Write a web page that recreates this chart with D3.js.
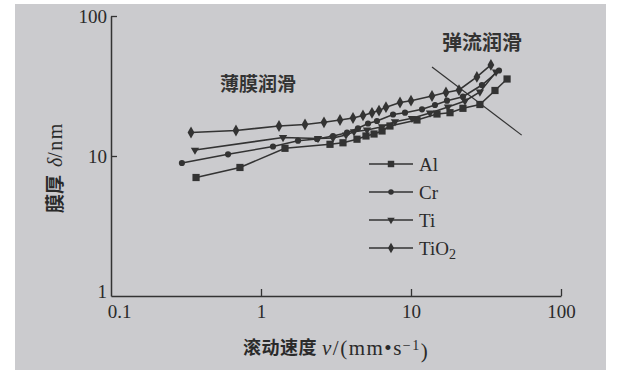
<!DOCTYPE html>
<html><head><meta charset="utf-8">
<script src="https://cdn.jsdelivr.net/npm/d3@7"></script>
<style>
html,body{margin:0;padding:0;background:#ffffff;}
svg{display:block;}
</style></head>
<body>
<svg id="chart" width="622" height="373"></svg>
<script>
// ---- data ----
const seriesNames = ["Al", "Cr", "Ti", "TiO2"];
const alX  = [0.369,0.724,1.445,2.884,3.52,4.365,5.01,5.67,6.41,7.24,10.96,14.9,18.2,22.2,28.8,36.3,43.7];
const alY  = [7.02,8.28,11.35,12.12,12.43,13.18,13.9,14.36,15.09,16.38,18.08,19.95,20.39,21.91,23.33,29.37,35.48];
const crX  = [0.297,0.603,1.202,1.765,2.362,3.02,3.745,4.43,5.17,5.93,7.59,9.12,11.84,14.45,17.38,22.2,29.7,38.6];
const crY  = [8.91,10.28,11.69,12.86,13.22,13.9,14.67,15.77,17.07,17.78,19.79,20.39,21.56,23.14,24.83,26.52,32.15,40.8];
const tiX  = [0.363,1.402,2.399,3.02,3.687,4.17,5.09,6.41,7.82,10.15,13.39,17.65,22.9,28.8,36.9];
const tiY  = [11.03,13.56,13.34,13.45,14.13,14.92,15.34,16.19,17.58,18.59,20.29,22.39,24.7,28.65,39.8];
const tio2X = [0.3415,0.681,1.318,1.965,2.63,3.363,4.105,4.786,5.495,6.12,6.81,8.45,10,13.8,17.11,20.9,27.5,34.1];
const tio2Y = [14.72,15.21,16.38,16.79,17.41,18.08,18.68,19.47,20.35,21.13,22.32,24.11,24.83,26.83,28.42,29.6,36.7,44.7];
const dividerX = [13.8, 54.7];
const dividerY = [43.2, 14.1];
const xTicks = [0.1, 1, 10, 100];
const yTicks = [1, 10, 100];
const regionLabels = ["薄膜润滑", "弹流润滑"];

// ---- drawing ----
const svg = d3.select("#chart");
const ink = "#333";
svg.append("rect").attr("width",622).attr("height",373).attr("fill","#ffffff");
svg.append("rect").attr("x",15).attr("y",4).attr("width",591).attr("height",366).attr("fill","#cbcbce");

const x = d3.scaleLog().domain([0.1,100]).range([111,561]);
const y = d3.scaleLog().domain([1,100]).range([296,16]);

const serif = "'Liberation Serif','Times New Roman',serif";
const cjk = "'Noto Sans CJK SC','Noto Sans CJK JP',sans-serif";

// axes
const gx = svg.append("g").attr("transform","translate(0,296)")
  .call(d3.axisBottom(x).tickValues(xTicks).tickSize(-7).tickSizeOuter(0).tickPadding(9).tickFormat(d=>String(d)));
const gy = svg.append("g").attr("transform","translate(111,0)")
  .call(d3.axisLeft(y).tickValues(yTicks).tickSize(-6).tickSizeOuter(0).tickPadding(4).tickFormat(d=>String(d)));
[gx,gy].forEach(g=>{
  g.select(".domain").attr("stroke",ink).attr("stroke-width",1.5);
  g.selectAll(".tick line").attr("stroke",ink).attr("stroke-width",1.3);
  g.selectAll(".tick text").attr("fill","#2a2a2a").style("font-family",serif).style("font-size","19px");
});
gx.selectAll(".tick").filter(d=>d===0.1).select("line").remove();
gx.selectAll(".tick").filter(d=>d===0.1).select("text").attr("dx",8);
gy.selectAll(".tick").filter(d=>d===1).select("line").remove();
gy.selectAll(".tick").filter(d=>d===1).select("text").attr("dy","0.1em");

// divider
svg.append("line")
  .attr("x1",x(dividerX[0])).attr("y1",y(dividerY[0]))
  .attr("x2",x(dividerX[1])).attr("y2",y(dividerY[1]))
  .attr("stroke",ink).attr("stroke-width",1.2);

const symbols = {
  "Al": {type:d3.symbolSquare, size:52, rot:0},
  "Cr": {type:d3.symbolCircle, size:30, rot:0},
  "Ti": {type:d3.symbolTriangle, size:30, rot:180},
  "TiO2": {type:d3.symbolDiamond, size:40, rot:0}
};
const data = {
  "Al": alX.map((v,i)=>[v,alY[i]]),
  "Cr": crX.map((v,i)=>[v,crY[i]]),
  "Ti": tiX.map((v,i)=>[v,tiY[i]]),
  "TiO2": tio2X.map((v,i)=>[v,tio2Y[i]])
};
const line = d3.line().x(d=>x(d[0])).y(d=>y(d[1]));

seriesNames.forEach(name=>{
  const pts = data[name];
  svg.append("path").attr("d",line(pts)).attr("fill","none").attr("stroke",ink).attr("stroke-width",1.6);
  const s = symbols[name];
  svg.append("g").selectAll("path").data(pts).join("path")
    .attr("d",d3.symbol().type(s.type).size(s.size))
    .attr("transform",d=>`translate(${x(d[0])},${y(d[1])}) rotate(${s.rot})`)
    .attr("fill",ink);
});

// legend
const legY = [164,192,220,248];
seriesNames.forEach((name,i)=>{
  const g = svg.append("g").attr("transform",`translate(0,${legY[i]})`);
  g.append("line").attr("x1",369).attr("x2",413).attr("y1",0).attr("y2",0).attr("stroke",ink).attr("stroke-width",1.6);
  const s = symbols[name];
  g.append("path").attr("d",d3.symbol().type(s.type).size(s.size*0.8))
    .attr("transform",`translate(391,0) rotate(${s.rot})`).attr("fill",ink);
  const t = g.append("text").attr("x",419).attr("y",0).attr("dy","0.35em")
    .attr("fill","#2a2a2a").style("font-family",serif).style("font-size","19px");
  if(name==="TiO2"){
    t.append("tspan").text("TiO");
    t.append("tspan").attr("dy","0.3em").style("font-size","14px").text("2");
  } else t.text(name);
});

// region labels
svg.append("text").attr("x",258).attr("y",84).attr("dy","0.35em").attr("text-anchor","middle")
  .style("font-family",cjk).style("font-weight","700").style("font-size","19px").attr("fill","#333").text(regionLabels[0]);
svg.append("text").attr("x",482).attr("y",43).attr("dy","0.35em").attr("text-anchor","middle")
  .style("font-family",cjk).style("font-weight","700").style("font-size","20px").attr("fill","#333").text(regionLabels[1]);

// axis titles
const xt = svg.append("text").attr("x",243).attr("y",348).attr("dy","0.35em")
  .attr("fill","#2a2a2a");
xt.append("tspan").style("font-family",cjk).style("font-weight","700").style("font-size","18px")
  .style("letter-spacing","0.5px").text("滚动速度");
const xl = svg.append("text").attr("x",322).attr("y",348).attr("dy","0.35em")
  .attr("fill","#2a2a2a").style("font-family",serif).style("font-size","21px").style("letter-spacing","1.5px");
xl.append("tspan").style("font-style","italic").text("v");
xl.append("tspan").text("/(mm•s");
xl.append("tspan").attr("dy","-0.4em").style("font-size","14px").text("−1");
xl.append("tspan").attr("dy","0.4em").text(")");

const yt = svg.append("text").attr("transform","translate(56,213) rotate(-90)").attr("dy","0.35em")
  .attr("fill","#2a2a2a");
yt.append("tspan").style("font-family",cjk).style("font-weight","700").style("font-size","19px").text("膜厚");
yt.append("tspan").style("font-family",serif).style("font-size","20px").style("font-style","italic").attr("dx",8).text("δ");
yt.append("tspan").style("font-family",serif).style("font-size","20px").style("letter-spacing","1.5px").text("/nm");
</script>
</body></html>
